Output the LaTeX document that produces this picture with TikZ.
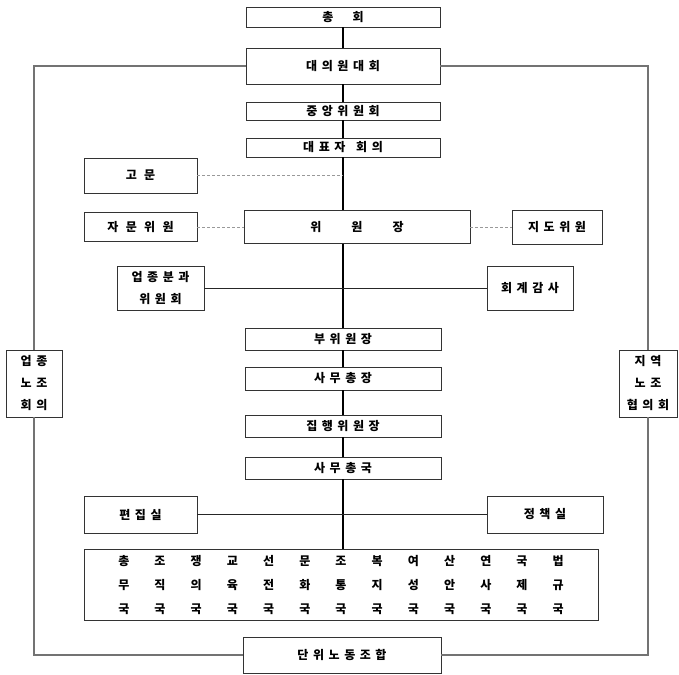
\documentclass[tikz,border=0pt]{standalone}
\usepackage{fontspec}
\newfontfamily\kr{Noto Sans CJK KR}[LetterSpace=38]
\newfontfamily\krplain{Noto Sans CJK KR}
\usetikzlibrary{matrix,positioning}
\tikzset{
orgbox/.style 2 args={
  draw=black!80,
  fill=white,
  minimum width=#1pt,
  minimum height=#2pt,
  inner sep=1pt,
  align=center,
  font=\kr\bfseries\fontsize{12}{13}\selectfont
  },
tall/.style={font=\kr\bfseries\fontsize{12}{22}\selectfont}
}
\tikzset{
trunk/.style={line width=1.4pt, black},
outerline/.style={line width=1.2pt, black!55},
adv/.style={densely dashed, black!40, line width=0.5pt},
link/.style={line width=0.7pt, black!85},
bureau/.style={
  matrix of nodes,
  nodes={minimum width=36.2pt, minimum height=23.5pt, inner sep=0pt,
         font=\krplain\bfseries\fontsize{12}{13}\selectfont},
  column sep=0pt,
  row sep=0pt,
  draw=black!80,
  inner xsep=22pt,
  inner ysep=0pt
  }
}

\begin{document}
\begin{tikzpicture}[x=1pt,y=-1pt]
\useasboundingbox (0,0) rectangle (679,674);

% central column
\node[orgbox={194}{20}] (chonghoe) at (343,17) {총\hspace{1.6em}회};
\node[orgbox={194}{36}] (daeuiwon) at (343,66) {대의원\hspace{0.4em}대회};
\node[orgbox={194}{18}] (jungang) at (343,111) {중앙위원회};
\node[orgbox={194}{19}] (daepyo) at (343,147.5) {대표자\hspace{0.9em}회의};
\node[orgbox={226}{33}] (wiwonjang) at (357,227) {위\hspace{2.5em}원\hspace{2.5em}장};
\node[orgbox={196}{22}] (bu) at (343,339) {부위원장};
\node[orgbox={196}{23}] (samuchongjang) at (343,378.5) {사무총장};
\node[orgbox={196}{22}] (jiphaeng) at (343,426) {집행위원장};
\node[orgbox={196}{22}] (samuchongguk) at (343,468) {사무총국};

% side boxes
\node[orgbox={113}{35}] (gomun) at (140.5,175.5) {고 문};
\node[orgbox={113}{29}] (jamun) at (140.5,227) {자 문 위 원};
\node[orgbox={90}{34}] (jido) at (557,227) {지도위원};
\node[orgbox={87}{44}, tall] (upjong) at (160.5,288) {업종분과\\위원회};
\node[orgbox={86}{44}] (hoegye) at (530,288) {회계감사};
\node[orgbox={113}{37}] (pyeonjip) at (140.5,514.5) {편집실};
\node[orgbox={116}{37}] (jeongchaek) at (545,514.5) {정책실};

% bureaus
\matrix[bureau] at (341,585) (bureau)
{
  총 & 조 & 쟁 & 교 & 선 & 문 & 조 & 복 & 여 & 산 & 연 & 국 & 법 \\
  무 & 직 & 의 & 육 & 전 & 화 & 통 & 지 & 성 & 안 & 사 & 제 & 규 \\
  국 & 국 & 국 & 국 & 국 & 국 & 국 & 국 & 국 & 국 & 국 & 국 & 국 \\
};

\node[orgbox={198}{36}] (danwi) at (342,655) {단위노동조합};

% outer councils
\node[orgbox={56}{67}, tall] (upjongnojo) at (34,383.5) {업종\\노조\\회의};
\node[orgbox={58}{67}, tall] (jiyeok) at (648,383.5) {지역\\노조\\협의회};

% connectors
\draw[trunk] (chonghoe) -- (daeuiwon);
\draw[trunk] (daeuiwon) -- (jungang);
\draw[trunk] (jungang) -- (daepyo);
\draw[trunk] (daepyo.south) -- (daepyo.south |- wiwonjang.north);
\draw[trunk] (bu.north |- wiwonjang.south) -- (bu.north);
\draw[trunk] (bu) -- (samuchongjang);
\draw[trunk] (samuchongjang) -- (jiphaeng);
\draw[trunk] (jiphaeng) -- (samuchongguk);
\draw[trunk] (samuchongguk.south) -- (samuchongguk.south |- bureau.north);

\draw[adv] (gomun.east) -- (gomun.east -| daepyo.south);
\draw[adv] (jamun) -- (wiwonjang);
\draw[adv] (wiwonjang) -- (jido);

\draw[link] (upjong) -- (hoegye);
\draw[link] (pyeonjip) -- (jeongchaek);

\draw[outerline] (daeuiwon.west) -| (upjongnojo.north);
\draw[outerline] (upjongnojo.south) |- (danwi.west);
\draw[outerline] (daeuiwon.east) -| (jiyeok.north);
\draw[outerline] (jiyeok.south) |- (danwi.east);

\end{tikzpicture}
\end{document}
